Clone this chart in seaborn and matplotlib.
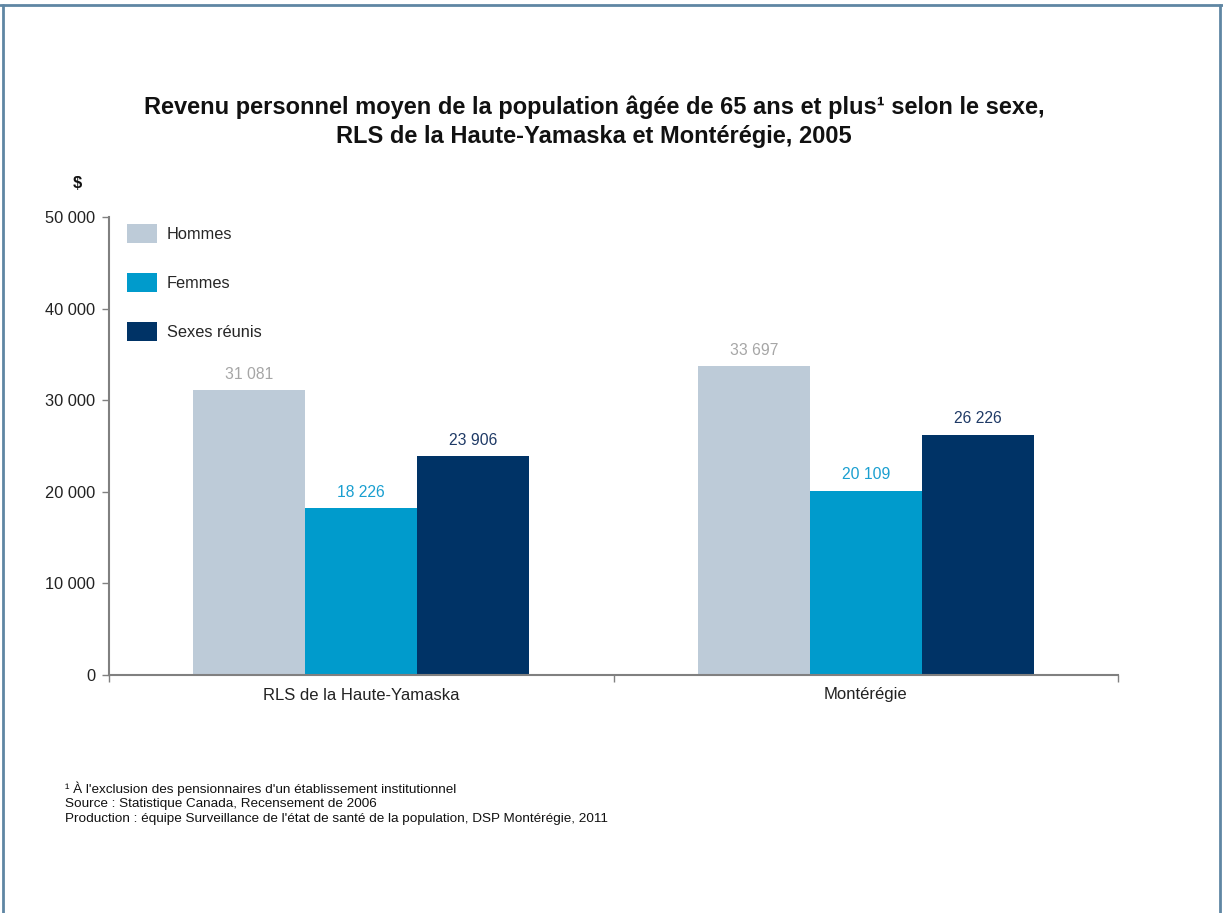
import matplotlib
matplotlib.use("Agg")
import matplotlib.pyplot as plt
import matplotlib.patches as mpatches
import seaborn as sns
import pandas as pd

regions = ["RLS de la Haute-Yamaska", "Montérégie"]
sexes = ["Hommes", "Femmes", "Sexes réunis"]
hommes = [31081, 33697]
femmes = [18226, 20109]
reunis = [23906, 26226]
yticks = [0, 10000, 20000, 30000, 40000, 50000]

bar_colors = ["#bdcbd8", "#009bcc", "#003366"]
label_colors = ["#a6a6a6", "#1a9fd0", "#1f3a66"]

rows = []
for s, vals in zip(sexes, [hommes, femmes, reunis]):
    for r, v in zip(regions, vals):
        rows.append({"region": r, "sexe": s, "revenu": v})
df = pd.DataFrame(rows)

sns.set_theme(style="white")
plt.rcParams["font.family"] = ["Liberation Sans", "DejaVu Sans"]

def fmt(v):
    return f"{int(v):,}".replace(",", " ")

fig = plt.figure(figsize=(12.23, 9.13), dpi=100)
ax = fig.add_axes([109/1223, 1-675/913, 1009/1223, 458/913])

sns.barplot(data=df, x="region", y="revenu", hue="sexe", order=regions,
            hue_order=sexes, palette=bar_colors, width=0.666, gap=0,
            saturation=1, errorbar=None, linewidth=0, ax=ax)

ax.set_xlim(-0.5, 1.5)
ax.set_ylim(0, 50000)
ax.set_yticks(yticks)
ax.set_yticklabels([fmt(v) for v in yticks], fontsize=11.8, color="#222222")
ax.set_xlabel("")
ax.set_ylabel("")
ax.set_xticks([0, 1])
ax.set_xticklabels(regions, fontsize=12, color="#222222")
ax.set_xticks([-0.5, 0.5, 1.5], minor=True)
ax.tick_params(axis="x", which="major", length=0, pad=9)
ax.tick_params(axis="x", which="minor", length=5, width=1, color="#808080", direction="out", bottom=True)
ax.tick_params(axis="y", which="major", length=5, width=1, color="#808080", direction="out", left=True, pad=5)

for side in ["top", "right"]:
    ax.spines[side].set_visible(False)
for side in ["left", "bottom"]:
    ax.spines[side].set_color("#808080")
    ax.spines[side].set_linewidth(1.5)

for cont, col in zip(ax.containers, label_colors):
    ax.bar_label(cont, labels=[fmt(b.get_height()) for b in cont], padding=6,
                 color=col, fontsize=11.3)

handles = [mpatches.Patch(facecolor=c, edgecolor="none") for c in bar_colors]
ax.legend(handles, sexes, loc="upper left", bbox_to_anchor=(18/1009, 1-7/458),
          frameon=False, fontsize=11.8, borderpad=0, borderaxespad=0,
          handlelength=1.8, handleheight=1.45, labelspacing=1.8, handletextpad=0.62)

fig.text(594/1223, 1-107/913,
         "Revenu personnel moyen de la population âgée de 65 ans et plus¹ selon le sexe,",
         ha="center", va="center", fontsize=17, fontweight="bold", color="#111111")
fig.text(594/1223, 1-137/913, "RLS de la Haute-Yamaska et Montérégie, 2005",
         ha="center", va="center", fontsize=17, fontweight="bold", color="#111111")
fig.text(77/1223, 1-183/913, "$", ha="center", va="center", fontsize=12,
         fontweight="bold", color="#111111")

foot_font = ["Liberation Sans Narrow", "Liberation Sans", "DejaVu Sans"]
foots = ["¹ À l'exclusion des pensionnaires d'un établissement institutionnel",
         "Source : Statistique Canada, Recensement de 2006",
         "Production : équipe Surveillance de l'état de santé de la population, DSP Montérégie, 2011"]
for i, t in enumerate(foots):
    fig.text(65/1223, 1-(789+15*i)/913, t, ha="left", va="center", fontsize=9.7,
             family=foot_font, color="#111111")

border = "#5f86a3"
fig.add_artist(plt.Line2D([3/1223, 3/1223], [0, 1-5/913], transform=fig.transFigure, color=border, lw=2))
fig.add_artist(plt.Line2D([1220/1223, 1220/1223], [0, 1-5/913], transform=fig.transFigure, color=border, lw=2))
fig.add_artist(plt.Line2D([0, 1], [1-5/913, 1-5/913], transform=fig.transFigure, color=border, lw=2))

fig.savefig("out.png", dpi=100)
